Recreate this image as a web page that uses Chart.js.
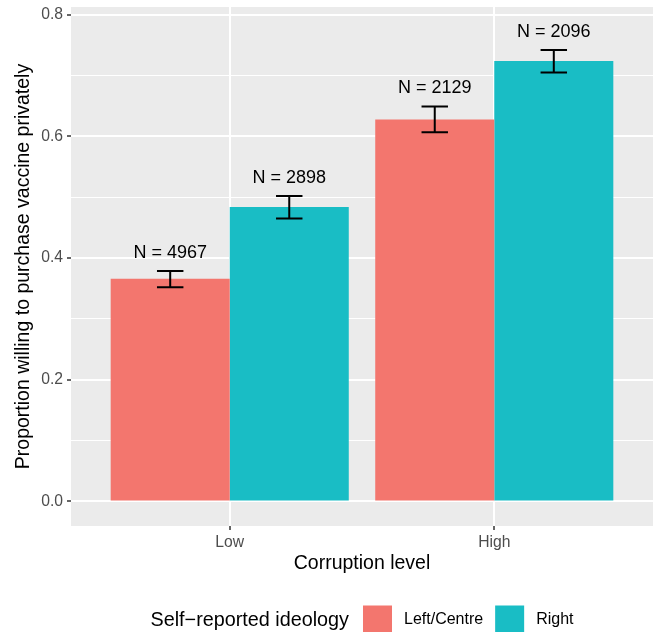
<!DOCTYPE html>
<html>
<head>
<meta charset="utf-8">
<script src="https://cdn.jsdelivr.net/npm/chart.js@4"></script>
<style>
  html, body { margin: 0; padding: 0; background: #ffffff; }
  canvas { display: block; }
</style>
</head>
<body>
<canvas id="chart" width="657" height="632"></canvas>
<script>
// values
const categories = ["Low", "High"];
const groups = ["Left/Centre", "Right"];
const leftValues = [0.366, 0.628];
const rightValues = [0.484, 0.724];
const leftLower = [0.352, 0.607];
const leftUpper = [0.379, 0.649];
const rightLower = [0.465, 0.705];
const rightUpper = [0.502, 0.742];
const leftN = [4967, 2129];
const rightN = [2898, 2096];
const yMajorTicks = [0, 0.2, 0.4, 0.6, 0.8];
const yMinorTicks = [0.1, 0.3, 0.5, 0.7];
const yTickLabels = ["0.0", "0.2", "0.4", "0.6", "0.8"];

const FONT = "'Liberation Sans', Arial, Helvetica, sans-serif";
const colours = ["#F3766E", "#19BDC5"];
const lowers = [leftLower, rightLower];
const uppers = [leftUpper, rightUpper];
const counts = [leftN, rightN];
const capWidth = 0.1;     // in x units, like geom_errorbar(width = 0.1)
const labelGap = 0.03;    // text sits this far above the upper whisker

function isMajor(v) {
    return yMajorTicks.indexOf(v) >= 0;
}

const panelBackground = {
    id: "panelBackground",
    beforeDraw(chart) {
        const a = chart.chartArea;
        const ctx = chart.ctx;
        ctx.save();
        ctx.fillStyle = "#EBEBEB";
        ctx.fillRect(a.left, a.top, a.right - a.left, a.bottom - a.top);
        ctx.restore();
    }
};

const errorBars = {
    id: "errorBars",
    afterDatasetsDraw(chart) {
        const ctx = chart.ctx;
        const x = chart.scales.x;
        const y = chart.scales.y;
        const half = (x.getPixelForValue(1 + capWidth) - x.getPixelForValue(1)) / 2;
        ctx.save();
        chart.data.datasets.forEach((ds, di) => {
            const meta = chart.getDatasetMeta(di);
            meta.data.forEach((bar, j) => {
                const top = y.getPixelForValue(uppers[di][j]);
                const bottom = y.getPixelForValue(lowers[di][j]);
                ctx.strokeStyle = "#000000";
                ctx.lineWidth = 2;
                ctx.beginPath();
                ctx.moveTo(bar.x, top);
                ctx.lineTo(bar.x, bottom);
                ctx.moveTo(bar.x - half, top);
                ctx.lineTo(bar.x + half, top);
                ctx.moveTo(bar.x - half, bottom);
                ctx.lineTo(bar.x + half, bottom);
                ctx.stroke();

                ctx.fillStyle = "#000000";
                ctx.font = "18px " + FONT;
                ctx.textAlign = "center";
                ctx.textBaseline = "middle";
                ctx.fillText("N = " + counts[di][j], bar.x, y.getPixelForValue(uppers[di][j] + labelGap));
            });
        });
        ctx.restore();
    }
};

const ggLegend = {
    id: "ggLegend",
    afterDraw(chart) {
        const ctx = chart.ctx;
        const a = chart.chartArea;
        const cy = 620;
        const key = 29;
        const title = "Self\u2212reported ideology";
        ctx.save();
        ctx.textBaseline = "middle";
        ctx.textAlign = "left";

        ctx.font = "19.8px " + FONT;
        const titleW = ctx.measureText(title).width;
        ctx.font = "16px " + FONT;
        const labelW = groups.map(g => ctx.measureText(g).width);
        const total = titleW + 14 + labelW.reduce((s, w) => s + key + 12 + w, 0) + 12 * (groups.length - 1);

        let cx = (a.left + a.right) / 2 - total / 2;
        ctx.fillStyle = "#000000";
        ctx.font = "19.8px " + FONT;
        ctx.fillText(title, cx, cy + 1);
        cx += titleW + 14;

        ctx.font = "16px " + FONT;
        groups.forEach((g, i) => {
            ctx.fillStyle = colours[i];
            ctx.fillRect(cx, cy - key / 2, key, key);
            cx += key + 12;
            ctx.fillStyle = "#000000";
            ctx.fillText(g, cx, cy);
            cx += labelW[i] + 12;
        });
        ctx.restore();
    }
};

const datasets = [leftValues, rightValues].map((vals, i) => ({
    label: groups[i],
    data: categories.map((c, j) => ({ x: j + 1, y: vals[j] })),
    backgroundColor: colours[i],
    borderWidth: 0,
    categoryPercentage: 0.9,
    barPercentage: 1.0
}));

new Chart(document.getElementById("chart"), {
    type: "bar",
    data: { datasets: datasets },
    options: {
        responsive: false,
        animation: false,
        layout: { padding: { top: 7, right: 4, left: 0, bottom: 57 } },
        plugins: {
            legend: { display: false },
            tooltip: { enabled: false }
        },
        scales: {
            x: {
                type: "linear",
                min: 0.4,
                max: 2.6,
                offset: false,
                afterBuildTicks: scale => {
                    scale.ticks = categories.map((c, i) => ({ value: i + 1 }));
                },
                afterFit: scale => {
                    scale.height = 49;
                    scale.paddingLeft = 0;
                    scale.paddingRight = 0;
                },
                ticks: {
                    autoSkip: false,
                    maxRotation: 0,
                    padding: 3,
                    color: "#4D4D4D",
                    font: { family: FONT, size: 15.7 },
                    callback: v => categories[v - 1]
                },
                grid: {
                    offset: false,
                    color: "#FFFFFF",
                    lineWidth: 2,
                    tickColor: "#333333",
                    tickLength: 4,
                    tickWidth: 1.5
                },
                border: { display: false },
                title: {
                    display: true,
                    text: "Corruption level",
                    color: "#000000",
                    font: { family: FONT, size: 19.5 },
                    padding: { top: 0, bottom: 0 }
                }
            },
            y: {
                min: -0.0403,
                max: 0.8127,
                afterBuildTicks: scale => {
                    scale.ticks = yMajorTicks.concat(yMinorTicks)
                        .sort((p, q) => p - q)
                        .map(v => ({ value: v }));
                },
                afterFit: scale => {
                    scale.width = 71;
                    scale.paddingTop = 0;
                    scale.paddingBottom = 0;
                },
                ticks: {
                    autoSkip: false,
                    padding: 4,
                    color: "#4D4D4D",
                    font: { family: FONT, size: 15.7 },
                    callback: v => isMajor(v) ? yTickLabels[yMajorTicks.indexOf(v)] : ""
                },
                grid: {
                    color: "#FFFFFF",
                    lineWidth: c => isMajor(c.tick.value) ? 2 : 1.1,
                    tickColor: c => isMajor(c.tick.value) ? "#333333" : "rgba(0,0,0,0)",
                    tickLength: 4,
                    tickWidth: 1.5
                },
                border: { display: false },
                title: {
                    display: true,
                    text: "Proportion willing to purchase vaccine privately",
                    color: "#000000",
                    font: { family: FONT, size: 19.5 },
                    padding: { top: 12, bottom: 0 }
                }
            }
        }
    },
    plugins: [panelBackground, errorBars, ggLegend]
});
</script>
</body>
</html>
